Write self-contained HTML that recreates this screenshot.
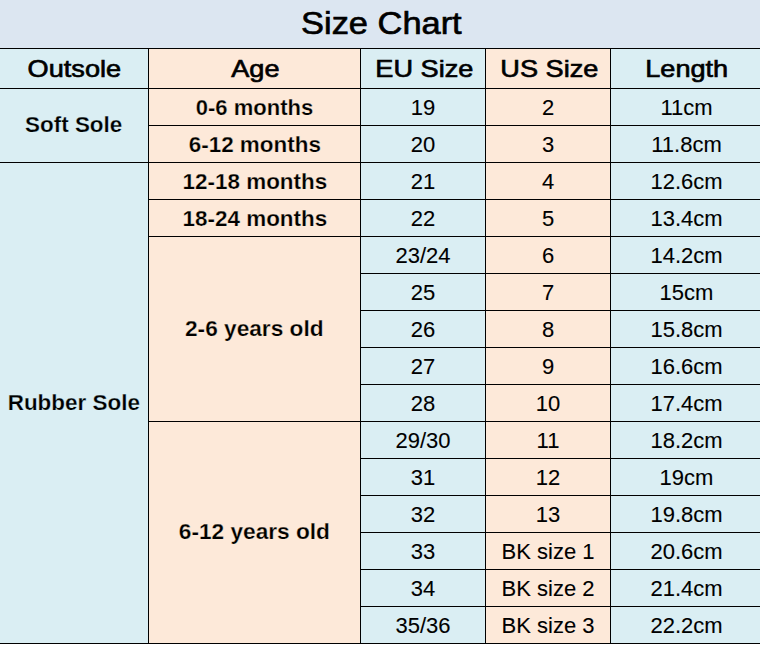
<!DOCTYPE html>
<html><head><meta charset="utf-8"><title>Size Chart</title><style>
html,body{margin:0;padding:0;background:#fff;}
body{width:760px;height:647px;position:relative;overflow:hidden;font-family:"Liberation Sans",Arial,Helvetica,sans-serif;color:#000;}
.c{position:absolute;display:flex;align-items:center;justify-content:center;white-space:nowrap;line-height:1;}
.c span{display:inline-block;position:relative;}
.l{position:absolute;background:#000;}
.t{font-size:31px;-webkit-text-stroke:0.65px #000;}
.t span{top:-0.5px;left:1px;transform:scaleX(1.11);}
.h{font-size:24px;-webkit-text-stroke:0.65px #000;}
.h span{top:0px;left:1px;transform:scaleX(1.13);}
.o{font-size:22px;font-weight:700;-webkit-text-stroke:0.25px #daeef3;}
.o span{top:0px;transform:scaleX(1.02);}
.a{font-size:22px;font-weight:700;-webkit-text-stroke:0.25px #fde9d9;}
.a span{top:0.5px;}
.d0,.d1,.d2{font-size:22px;-webkit-text-stroke:0.1px #000;}
.d0 span,.d1 span,.d2 span{top:1px;}
.d0 span{left:0px;}
.d1 span{left:0px;}
.d2 span{left:1px;}
</style></head>
<body>
<div class="c t" style="left:0;top:0;width:760px;height:48px;background:#dce6f1"><span>Size Chart</span></div>
<div class="c h" style="left:0px;top:49px;width:148px;height:39px;background:#daeef3"><span style="left:0px">Outsole</span></div>
<div class="c h" style="left:149px;top:49px;width:211px;height:39px;background:#fde9d9"><span>Age</span></div>
<div class="c h" style="left:361px;top:49px;width:124px;height:39px;background:#daeef3"><span>EU Size</span></div>
<div class="c h" style="left:486px;top:49px;width:124px;height:39px;background:#fde9d9"><span>US Size</span></div>
<div class="c h" style="left:611px;top:49px;width:149px;height:39px;background:#daeef3"><span>Length</span></div>
<div class="c o" style="left:0px;top:89px;width:148px;height:73px;background:#daeef3"><span style="top:-1px">Soft Sole</span></div>
<div class="c o" style="left:0px;top:163px;width:148px;height:480px;background:#daeef3"><span>Rubber Sole</span></div>
<div class="c a" style="left:149px;top:89px;width:211px;height:36px;background:#fde9d9"><span>0-6 months</span></div>
<div class="c a" style="left:149px;top:126px;width:211px;height:36px;background:#fde9d9"><span style="transform:scaleX(1.02)">6-12 months</span></div>
<div class="c a" style="left:149px;top:163px;width:211px;height:36px;background:#fde9d9"><span style="transform:scaleX(1.02)">12-18 months</span></div>
<div class="c a" style="left:149px;top:200px;width:211px;height:36px;background:#fde9d9"><span style="transform:scaleX(1.02)">18-24 months</span></div>
<div class="c a" style="left:149px;top:237px;width:211px;height:184px;background:#fde9d9"><span style="top:-0.5px;transform:scaleX(1.03)">2-6 years old</span></div>
<div class="c a" style="left:149px;top:422px;width:211px;height:221px;background:#fde9d9"><span style="top:-0.5px;transform:scaleX(1.03)">6-12 years old</span></div>
<div class="c d0" style="left:361px;top:89px;width:124px;height:36px;background:#daeef3"><span>19</span></div>
<div class="c d1" style="left:486px;top:89px;width:124px;height:36px;background:#fde9d9"><span>2</span></div>
<div class="c d2" style="left:611px;top:89px;width:149px;height:36px;background:#daeef3"><span>11cm</span></div>
<div class="c d0" style="left:361px;top:126px;width:124px;height:36px;background:#daeef3"><span>20</span></div>
<div class="c d1" style="left:486px;top:126px;width:124px;height:36px;background:#fde9d9"><span>3</span></div>
<div class="c d2" style="left:611px;top:126px;width:149px;height:36px;background:#daeef3"><span>11.8cm</span></div>
<div class="c d0" style="left:361px;top:163px;width:124px;height:36px;background:#daeef3"><span>21</span></div>
<div class="c d1" style="left:486px;top:163px;width:124px;height:36px;background:#fde9d9"><span>4</span></div>
<div class="c d2" style="left:611px;top:163px;width:149px;height:36px;background:#daeef3"><span>12.6cm</span></div>
<div class="c d0" style="left:361px;top:200px;width:124px;height:36px;background:#daeef3"><span>22</span></div>
<div class="c d1" style="left:486px;top:200px;width:124px;height:36px;background:#fde9d9"><span>5</span></div>
<div class="c d2" style="left:611px;top:200px;width:149px;height:36px;background:#daeef3"><span>13.4cm</span></div>
<div class="c d0" style="left:361px;top:237px;width:124px;height:36px;background:#daeef3"><span>23/24</span></div>
<div class="c d1" style="left:486px;top:237px;width:124px;height:36px;background:#fde9d9"><span>6</span></div>
<div class="c d2" style="left:611px;top:237px;width:149px;height:36px;background:#daeef3"><span>14.2cm</span></div>
<div class="c d0" style="left:361px;top:274px;width:124px;height:36px;background:#daeef3"><span>25</span></div>
<div class="c d1" style="left:486px;top:274px;width:124px;height:36px;background:#fde9d9"><span>7</span></div>
<div class="c d2" style="left:611px;top:274px;width:149px;height:36px;background:#daeef3"><span>15cm</span></div>
<div class="c d0" style="left:361px;top:311px;width:124px;height:36px;background:#daeef3"><span>26</span></div>
<div class="c d1" style="left:486px;top:311px;width:124px;height:36px;background:#fde9d9"><span>8</span></div>
<div class="c d2" style="left:611px;top:311px;width:149px;height:36px;background:#daeef3"><span>15.8cm</span></div>
<div class="c d0" style="left:361px;top:348px;width:124px;height:36px;background:#daeef3"><span>27</span></div>
<div class="c d1" style="left:486px;top:348px;width:124px;height:36px;background:#fde9d9"><span>9</span></div>
<div class="c d2" style="left:611px;top:348px;width:149px;height:36px;background:#daeef3"><span>16.6cm</span></div>
<div class="c d0" style="left:361px;top:385px;width:124px;height:36px;background:#daeef3"><span>28</span></div>
<div class="c d1" style="left:486px;top:385px;width:124px;height:36px;background:#fde9d9"><span>10</span></div>
<div class="c d2" style="left:611px;top:385px;width:149px;height:36px;background:#daeef3"><span>17.4cm</span></div>
<div class="c d0" style="left:361px;top:422px;width:124px;height:36px;background:#daeef3"><span>29/30</span></div>
<div class="c d1" style="left:486px;top:422px;width:124px;height:36px;background:#fde9d9"><span>11</span></div>
<div class="c d2" style="left:611px;top:422px;width:149px;height:36px;background:#daeef3"><span>18.2cm</span></div>
<div class="c d0" style="left:361px;top:459px;width:124px;height:36px;background:#daeef3"><span>31</span></div>
<div class="c d1" style="left:486px;top:459px;width:124px;height:36px;background:#fde9d9"><span>12</span></div>
<div class="c d2" style="left:611px;top:459px;width:149px;height:36px;background:#daeef3"><span>19cm</span></div>
<div class="c d0" style="left:361px;top:496px;width:124px;height:36px;background:#daeef3"><span>32</span></div>
<div class="c d1" style="left:486px;top:496px;width:124px;height:36px;background:#fde9d9"><span>13</span></div>
<div class="c d2" style="left:611px;top:496px;width:149px;height:36px;background:#daeef3"><span>19.8cm</span></div>
<div class="c d0" style="left:361px;top:533px;width:124px;height:36px;background:#daeef3"><span>33</span></div>
<div class="c d1" style="left:486px;top:533px;width:124px;height:36px;background:#fde9d9"><span>BK size 1</span></div>
<div class="c d2" style="left:611px;top:533px;width:149px;height:36px;background:#daeef3"><span>20.6cm</span></div>
<div class="c d0" style="left:361px;top:570px;width:124px;height:36px;background:#daeef3"><span>34</span></div>
<div class="c d1" style="left:486px;top:570px;width:124px;height:36px;background:#fde9d9"><span>BK size 2</span></div>
<div class="c d2" style="left:611px;top:570px;width:149px;height:36px;background:#daeef3"><span>21.4cm</span></div>
<div class="c d0" style="left:361px;top:607px;width:124px;height:36px;background:#daeef3"><span>35/36</span></div>
<div class="c d1" style="left:486px;top:607px;width:124px;height:36px;background:#fde9d9"><span>BK size 3</span></div>
<div class="c d2" style="left:611px;top:607px;width:149px;height:36px;background:#daeef3"><span>22.2cm</span></div>
<div class="l" style="left:0px;top:48px;width:760px;height:1px"></div>
<div class="l" style="left:0px;top:88px;width:760px;height:1px"></div>
<div class="l" style="left:149px;top:125px;width:611px;height:1px"></div>
<div class="l" style="left:0px;top:162px;width:760px;height:1px"></div>
<div class="l" style="left:149px;top:199px;width:611px;height:1px"></div>
<div class="l" style="left:149px;top:236px;width:611px;height:1px"></div>
<div class="l" style="left:361px;top:273px;width:399px;height:1px"></div>
<div class="l" style="left:361px;top:310px;width:399px;height:1px"></div>
<div class="l" style="left:361px;top:347px;width:399px;height:1px"></div>
<div class="l" style="left:361px;top:384px;width:399px;height:1px"></div>
<div class="l" style="left:149px;top:421px;width:611px;height:1px"></div>
<div class="l" style="left:361px;top:458px;width:399px;height:1px"></div>
<div class="l" style="left:361px;top:495px;width:399px;height:1px"></div>
<div class="l" style="left:361px;top:532px;width:399px;height:1px"></div>
<div class="l" style="left:361px;top:569px;width:399px;height:1px"></div>
<div class="l" style="left:361px;top:606px;width:399px;height:1px"></div>
<div class="l" style="left:0px;top:643px;width:760px;height:1px"></div>
<div class="l" style="left:148px;top:48px;width:1px;height:596px"></div>
<div class="l" style="left:360px;top:48px;width:1px;height:596px"></div>
<div class="l" style="left:485px;top:48px;width:1px;height:596px"></div>
<div class="l" style="left:610px;top:48px;width:1px;height:596px"></div>
</body></html>
